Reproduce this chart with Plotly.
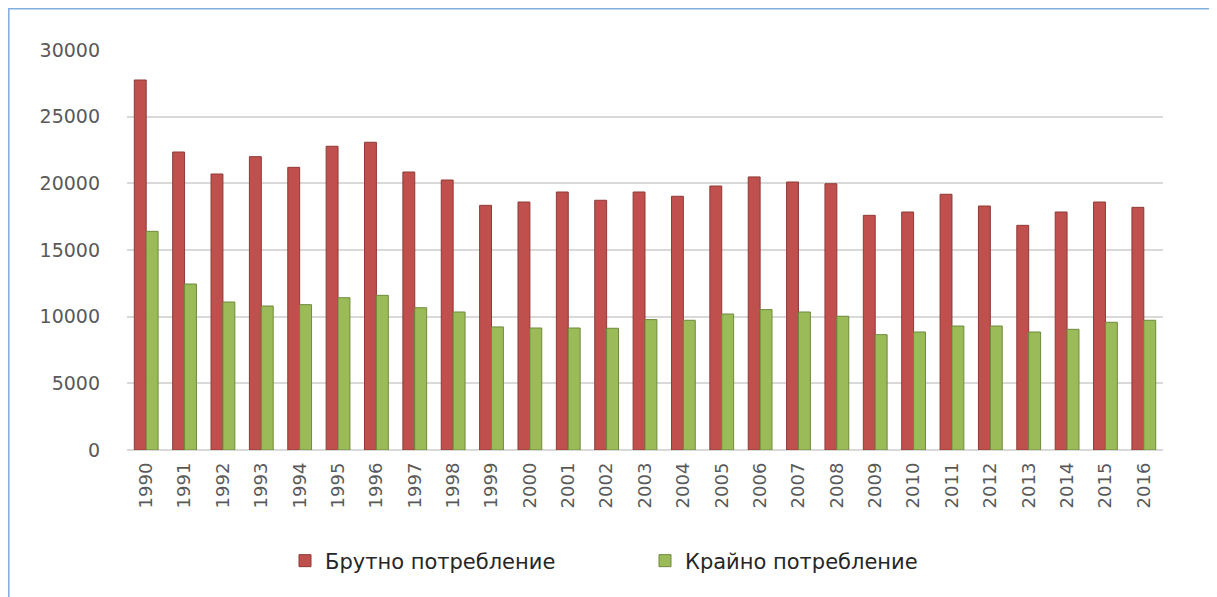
import plotly.graph_objects as go

years = [str(y) for y in range(1990, 2017)]
gross = [27750, 22350, 20700, 22000, 21200, 22780, 23080, 20850, 20250, 18350,
         18600, 19350, 18730, 19350, 19030, 19800, 20480, 20100, 19970, 17600,
         17850, 19180, 18300, 16850, 17850, 18600, 18200]
final = [16400, 12450, 11100, 10800, 10900, 11420, 11600, 10670, 10350, 9230,
         9150, 9150, 9130, 9780, 9730, 10200, 10530, 10350, 10030, 8650,
         8850, 9300, 9300, 8850, 9050, 9580, 9730]
name_gross = "Брутно потребление"
name_final = "Крайно потребление"
y_ticks = [0, 5000, 10000, 15000, 20000, 25000, 30000]

# page body has an 8px margin; work in reference-pixel coords and shift
OFF = 8
W, H = 1217 - OFF, 597 - OFF
L, R, T, B = 127 - OFF, 54, 50 - OFF, 147
pw, ph = W - L - R, H - T - B

def px(x):
    return (x - OFF - L) / pw

def py(y):
    return (H - B - (y - OFF)) / ph

fig = go.Figure()
fig.add_trace(go.Bar(x=years, y=gross, name=name_gross,
                     marker=dict(color="#C0504D", line=dict(color="#8E3A37", width=1))))
fig.add_trace(go.Bar(x=years, y=final, name=name_final,
                     marker=dict(color="#9BBB59", line=dict(color="#6E8A3C", width=1))))

font_family = "DejaVu Sans, sans-serif"
fig.update_layout(
    width=W, height=H,
    margin=dict(l=L, r=R, t=T, b=B, autoexpand=False),
    paper_bgcolor="white", plot_bgcolor="white",
    barmode="group", bargap=0.38, bargroupgap=0.0,
    font=dict(family=font_family, color="#595959", size=18),
    showlegend=True,
    legend=dict(orientation="h", x=px(285), xanchor="left", y=py(561), yanchor="middle",
                font=dict(size=21, color="#262626"), entrywidth=315,
                itemwidth=30, bgcolor="rgba(0,0,0,0)"),
    xaxis=dict(type="category", tickangle=-90, showgrid=False, showline=False,
               ticks="", tickfont=dict(size=18, color="#595959"), ticklabelstandoff=8),
    yaxis=dict(range=[0, 30000], tickvals=y_ticks, ticktext=[str(v) for v in y_ticks],
               showgrid=True, gridcolor="#D9D9D9", gridwidth=2, zeroline=True,
               zerolinecolor="#D9D9D9", zerolinewidth=2, showline=False, ticks="",
               tickfont=dict(size=19, color="#595959"), ticklabelstandoff=26),
    shapes=[dict(type="rect", xref="paper", yref="paper",
                 x0=px(8.8), x1=px(1240), y0=py(620), y1=py(8.8),
                 line=dict(color="#7FAEE0", width=1.5), fillcolor="rgba(0,0,0,0)",
                 layer="below")],
)

fig.write_html("out.html")
